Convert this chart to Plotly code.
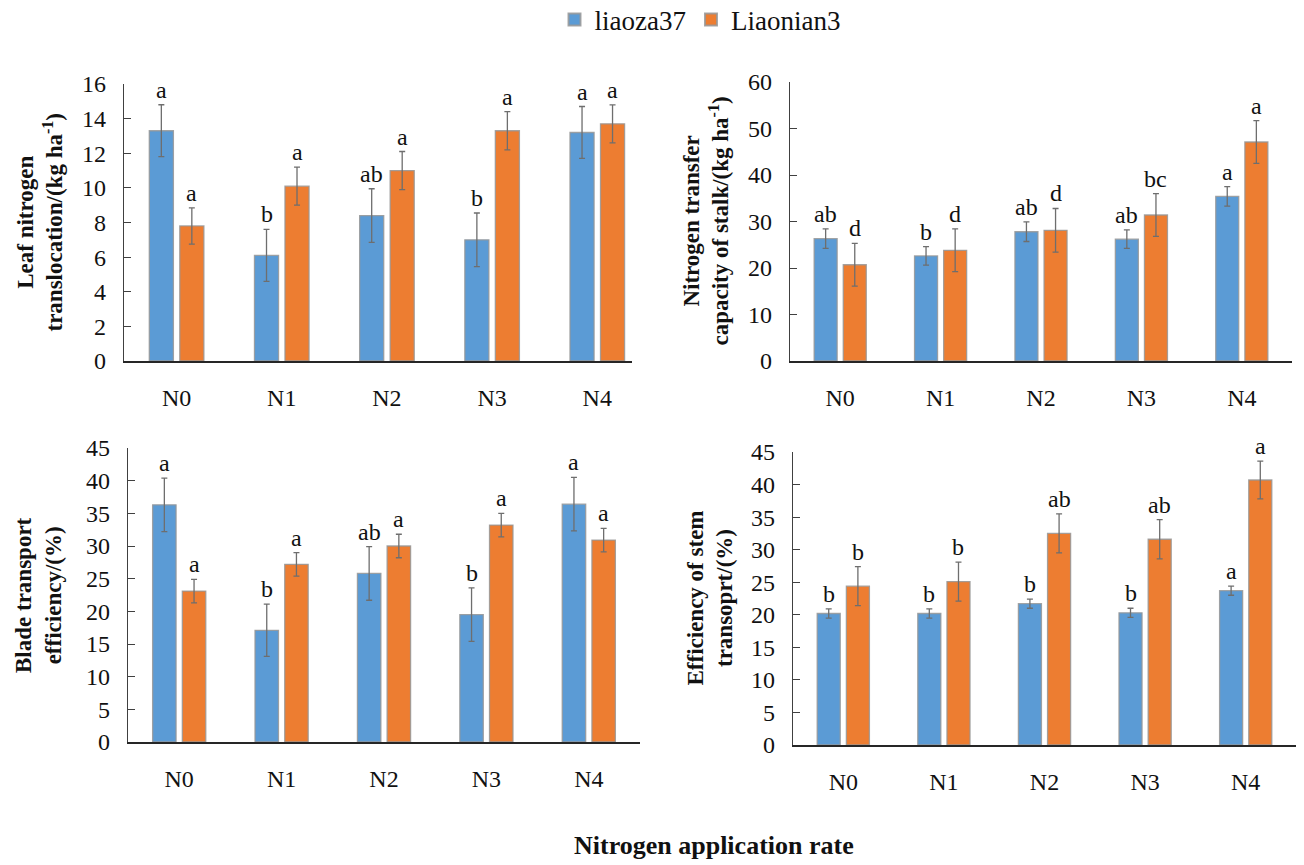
import plotly.graph_objects as go

# ---- data ----
categories = ["N0", "N1", "N2", "N3", "N4"]
series_names = ["liaoza37", "Liaonian3"]
series_colors = ["#5B9BD5", "#ED7D31"]

leaf_liaoza = [13.3, 6.1, 8.4, 7.0, 13.2]
leaf_liaoza_err = [1.5, 1.5, 1.55, 1.55, 1.5]
leaf_liaoza_sig = ["a", "b", "ab", "b", "a"]
leaf_liaonian = [7.8, 10.1, 11.0, 13.3, 13.7]
leaf_liaonian_err = [1.05, 1.1, 1.1, 1.1, 1.1]
leaf_liaonian_sig = ["a", "a", "a", "a", "a"]

stalk_liaoza = [26.3, 22.6, 27.8, 26.2, 35.4]
stalk_liaoza_err = [2.1, 2.0, 2.1, 2.0, 2.1]
stalk_liaoza_sig = ["ab", "b", "ab", "ab", "a"]
stalk_liaonian = [20.7, 23.8, 28.1, 31.4, 47.1]
stalk_liaonian_err = [4.6, 4.6, 4.7, 4.6, 4.6]
stalk_liaonian_sig = ["d", "d", "d", "bc", "a"]

blade_liaoza = [36.3, 17.1, 25.8, 19.5, 36.4]
blade_liaoza_err = [4.1, 4.0, 4.1, 4.1, 4.1]
blade_liaoza_sig = ["a", "b", "ab", "b", "a"]
blade_liaonian = [23.1, 27.2, 30.0, 33.2, 30.9]
blade_liaonian_err = [1.8, 1.8, 1.8, 1.8, 1.8]
blade_liaonian_sig = ["a", "a", "a", "a", "a"]

stem_liaoza = [20.2, 20.2, 21.7, 20.3, 23.7]
stem_liaoza_err = [0.7, 0.7, 0.7, 0.7, 0.7]
stem_liaoza_sig = ["b", "b", "b", "b", "a"]
stem_liaonian = [24.4, 25.1, 32.5, 31.6, 40.7]
stem_liaonian_err = [3.0, 3.0, 3.0, 3.0, 2.9]
stem_liaonian_sig = ["b", "b", "ab", "ab", "a"]

# ---- page geometry ----
W, H = 1304, 865
FONT = "Liberation Serif, Times New Roman, serif"
BARGAP, BARGROUPGAP = 0.42, 0.21


def px_x(p):
    return p / W


def px_y(p):
    return 1 - p / H


panels = [
    dict(vals=[leaf_liaoza, leaf_liaonian], errs=[leaf_liaoza_err, leaf_liaonian_err],
         sig=[leaf_liaoza_sig, leaf_liaonian_sig], yrange=[0, 16], dtick=2, xrange=[-0.5, 4.33],
         xdom=(124, 632), ydom=(361, 84), title_x=40,
         title="Leaf nitrogen<br>translocation/(kg ha<sup>-1</sup>)"),
    dict(vals=[stalk_liaoza, stalk_liaonian], errs=[stalk_liaoza_err, stalk_liaonian_err],
         sig=[stalk_liaoza_sig, stalk_liaonian_sig], yrange=[0, 60], dtick=10, xrange=[-0.5, 4.5],
         xdom=(790, 1292), ydom=(361, 82), title_x=706,
         title="Nitrogen transfer<br>capacity of stalk/(kg ha<sup>-1</sup>)"),
    dict(vals=[blade_liaoza, blade_liaonian], errs=[blade_liaoza_err, blade_liaonian_err],
         sig=[blade_liaoza_sig, blade_liaonian_sig], yrange=[0, 45], dtick=5, xrange=[-0.5, 4.5],
         xdom=(128, 640), ydom=(742, 448), title_x=38,
         title="Blade transport<br>efficiency/(%)"),
    dict(vals=[stem_liaoza, stem_liaonian], errs=[stem_liaoza_err, stem_liaonian_err],
         sig=[stem_liaoza_sig, stem_liaonian_sig], yrange=[0, 45], dtick=5, xrange=[-0.5, 4.5],
         xdom=(793, 1296), ydom=(745, 452), title_x=710,
         title="Efficiency of stem<br>transoprt/(%)"),
]

fig = go.Figure()
annotations = []
layout_axes = {}

for k, p in enumerate(panels):
    idx = "" if k == 0 else str(k + 1)
    xa, ya = "x" + idx, "y" + idx
    for s in range(2):
        fig.add_trace(go.Bar(
            x=categories, y=p["vals"][s], name=series_names[s],
            marker=dict(color=series_colors[s], line=dict(color="rgba(150,150,150,0.85)", width=1.3)),
            error_y=dict(type="data", array=p["errs"][s], color="#6e6e6e", thickness=1.3, width=3),
            xaxis=xa, yaxis=ya, showlegend=(k == 0), legendgroup=series_names[s],
        ))

    x0, x1 = p["xdom"]
    yb, yt = p["ydom"]
    layout_axes["xaxis" + idx] = dict(
        domain=[px_x(x0), px_x(x1)], anchor=ya, type="category", range=p["xrange"],
        showline=True, linecolor="#262626", linewidth=1.6, ticks="", showgrid=False,
        tickfont=dict(family=FONT, size=24, color="#111"), ticklabelstandoff=14,
        automargin=False,
    )
    layout_axes["yaxis" + idx] = dict(
        domain=[px_y(yb), px_y(yt)], anchor=xa, range=p["yrange"], dtick=p["dtick"],
        showline=True, linecolor="#404040", linewidth=1.3, ticks="inside", ticklen=7,
        tickcolor="#404040", tickwidth=1.2, showgrid=False, zeroline=False,
        tickfont=dict(family=FONT, size=24, color="#111"), ticklabelstandoff=12,
        automargin=False,
    )

    # significance letters sit above each error bar, offset to its bar in the group
    spacing_px = (x1 - x0) / (p["xrange"][1] - p["xrange"][0])
    slot_px = (1 - BARGAP) * spacing_px / 2
    for s in range(2):
        shift = (-0.5 if s == 0 else 0.5) * slot_px
        for c, cat in enumerate(categories):
            annotations.append(dict(
                x=cat, y=p["vals"][s][c] + p["errs"][s][c], xref=xa, yref=ya,
                text=p["sig"][s][c], showarrow=False, xshift=shift, yshift=0,
                xanchor="center", yanchor="bottom",
                font=dict(family=FONT, size=24, color="#111"),
            ))

    annotations.append(dict(
        x=px_x(p["title_x"]), y=px_y((yb + yt) / 2), xref="paper", yref="paper",
        text="<b>" + p["title"] + "</b>", textangle=-90, showarrow=False,
        xanchor="center", yanchor="middle", align="center",
        font=dict(family=FONT, size=23, color="#111"),
    ))

annotations.append(dict(
    x=px_x(714), y=px_y(845), xref="paper", yref="paper",
    text="<b>Nitrogen application rate</b>", showarrow=False,
    xanchor="center", yanchor="middle",
    font=dict(family=FONT, size=26, color="#111"),
))

fig.update_layout(
    width=W, height=H, autosize=False,
    margin=dict(l=0, r=0, t=0, b=0, pad=0, autoexpand=False),
    paper_bgcolor="white", plot_bgcolor="white",
    barmode="group", bargap=BARGAP, bargroupgap=BARGROUPGAP,
    font=dict(family=FONT, color="#111"),
    legend=dict(orientation="h", x=px_x(700), xanchor="center", y=px_y(20), yanchor="middle",
                font=dict(family=FONT, size=27), itemsizing="constant",
                bgcolor="rgba(0,0,0,0)"),
    annotations=annotations,
    **layout_axes,
)

fig.write_html("out.html")
